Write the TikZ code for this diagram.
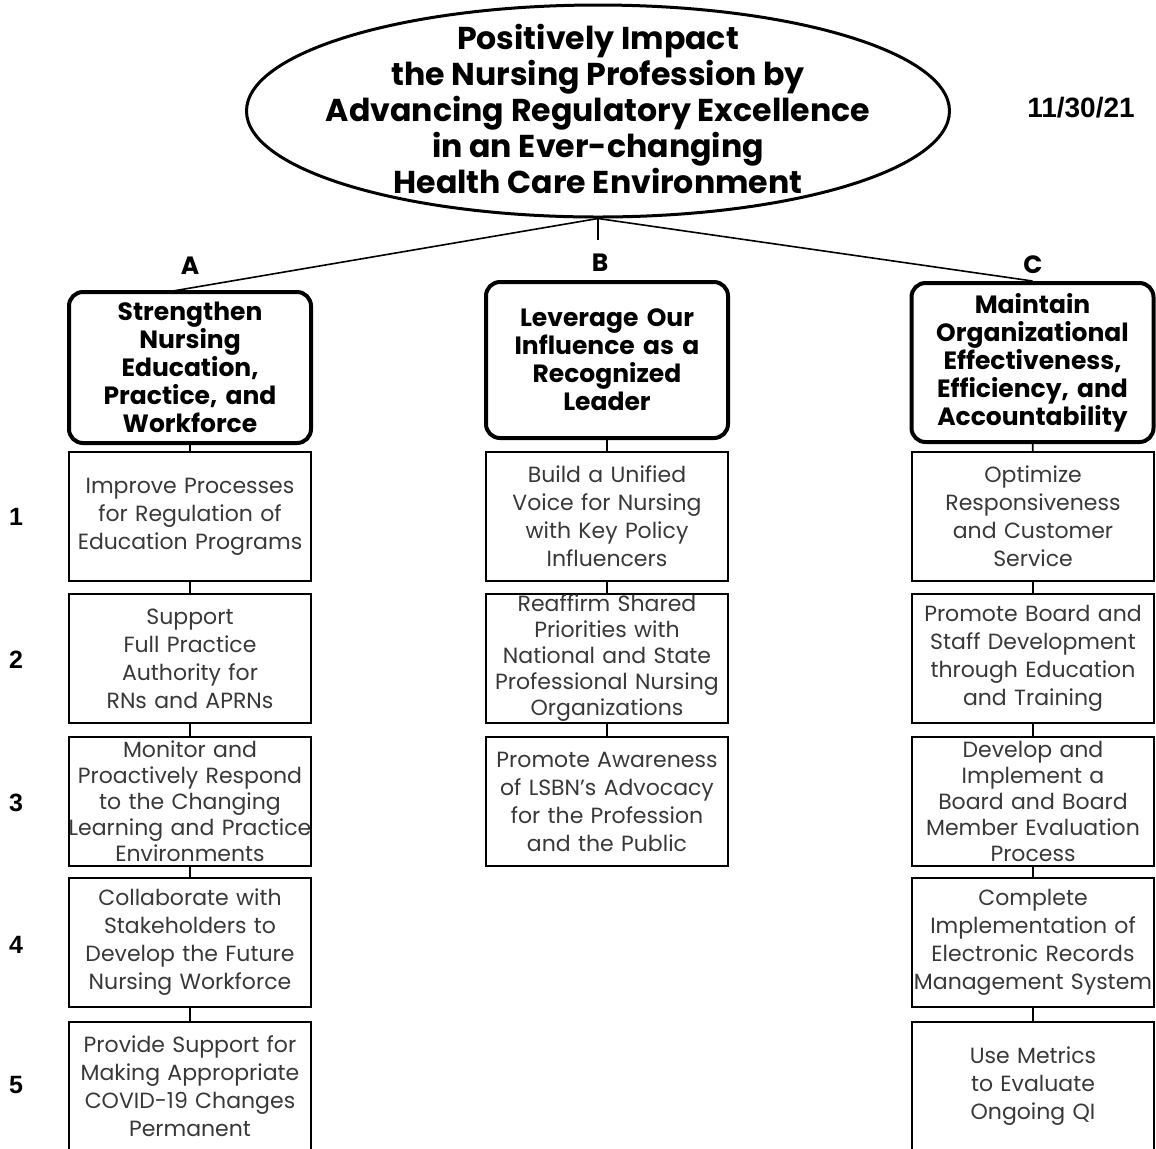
\documentclass[tikz,border=0pt]{standalone}
\usepackage{fontspec}
\setmainfont{Poppins}
\newfontfamily\arialfont{Liberation Sans}
\usetikzlibrary{shapes.geometric}

\definecolor{textgray}{rgb}{0.22,0.22,0.22}

\tikzset{
  goalbox/.style={ellipse, draw, line width=1.5pt, inner sep=0pt,
    minimum width=351.5pt, minimum height=106pt},
  goaltext/.style={align=center, inner sep=0pt,
    font=\bfseries\fontsize{15.8}{16.8}\selectfont},
  pillarbox/.style={draw, line width=2pt, rounded corners=7pt, inner sep=0pt,
    minimum width=121pt, text width=118pt, align=center,
    font=\bfseries\fontsize{12.5}{14}\selectfont},
  stratbox/.style={draw, line width=1pt, inner ysep=0pt, inner xsep=-2.5pt,
    minimum width=121pt, minimum height=64.5pt, text width=126pt, align=center,
    text=textgray, font=\fontsize{11}{14}\selectfont},
  tightbox/.style={stratbox, font=\fontsize{11}{13}\selectfont},
  letterlab/.style={font=\bfseries\fontsize{12.5}{14}\selectfont},
  rowlab/.style={font=\arialfont\bfseries\fontsize{12.5}{14}\selectfont},
  link/.style={line width=0.8pt}
}

\begin{document}
\begin{tikzpicture}[x=0.5pt,y=-0.5pt]
\useasboundingbox (0,0) rectangle (1156,1148);

% Goal ellipse
\node[goalbox, label={[goaltext, yshift=1pt]center:{Positively Impact\\the Nursing Profession by\\Advancing Regulatory Excellence\\in an Ever-changing\\Health Care Environment}}] (goal) at (598,111) {};

% Date
\node[font=\arialfont\bfseries\fontsize{14}{16}\selectfont] (date) at (1081,108) {11/30/21};

% Pillar letters
\node[letterlab] (labA) at (190,266) {A};
\node[letterlab] (labB) at (600,263) {B};
\node[letterlab] (labC) at (1033,265) {C};

% Pillar boxes
\node[pillarbox, minimum height=75.5pt] (boxA) at (190,367.5) {Strengthen\\Nursing\\Education,\\Practice, and\\Workforce};
\node[pillarbox, minimum height=78pt] (boxB) at (607,360) {Leverage Our\\Influence as a\\Recognized\\Leader};
\node[pillarbox, minimum height=79.5pt] (boxC) at (1032.5,362.5) {Maintain\\Organizational\\Effectiveness,\\Efficiency, and\\Accountability};

% Row numbers
\node[rowlab] (row1) at (16,517) {1};
\node[rowlab] (row2) at (16,660) {2};
\node[rowlab] (row3) at (16,803) {3};
\node[rowlab] (row4) at (16,945) {4};
\node[rowlab] (row5) at (16,1085) {5};

% Column A
\node[stratbox] (subA1) at (190,516.5) {Improve Processes\\for Regulation of\\Education Programs};
\node[stratbox] (subA2) at (190,658.5) {Support\\Full Practice\\Authority for\\RNs and APRNs};
\node[tightbox] (subA3) at (190,801.5) {Monitor and\\Proactively Respond\\to the Changing\\Learning and Practice\\Environments};
\node[stratbox] (subA4) at (190,942.5) {Collaborate with\\Stakeholders to\\Develop the Future\\Nursing Workforce};
\node[stratbox] (subA5) at (190,1086) {Provide Support for\\Making Appropriate\\COVID-19 Changes\\Permanent};

% Column B
\node[stratbox] (subB1) at (607,516) {Build a Unified\\Voice for Nursing\\with Key Policy\\Influencers};
\node[tightbox] (subB2) at (607,658.5) {Reaffirm Shared\\Priorities with\\National and State\\Professional Nursing\\Organizations};
\node[stratbox] (subB3) at (607,801.5) {Promote Awareness\\of LSBN's Advocacy\\for the Profession\\and the Public};

% Column C
\node[stratbox] (subC1) at (1033,516.5) {Optimize\\Responsiveness\\and Customer\\Service};
\node[stratbox] (subC2) at (1033,658.5) {Promote Board and\\Staff Development\\through Education\\and Training};
\node[tightbox] (subC3) at (1033,801.5) {Develop and\\Implement a\\Board and Board\\Member Evaluation\\Process};
\node[stratbox] (subC4) at (1033,942.5) {Complete\\Implementation of\\Electronic Records\\Management System};
\node[stratbox] (subC5) at (1033,1086) {Use Metrics\\to Evaluate\\Ongoing QI};

% Fan lines from the goal
\coordinate (footA) at (167,292);
\coordinate (stub) at (598,240);
\draw[link] (goal.south) -- (footA);
\draw[link] (goal.south) -- (stub);
\draw[link] (goal.south) -- (boxC.north);

% Column links
\draw[link] (boxA) -- (subA1);
\draw[link] (subA1) -- (subA2);
\draw[link] (subA2) -- (subA3);
\draw[link] (subA3) -- (subA4);
\draw[link] (subA4) -- (subA5);

\draw[link] (boxB) -- (subB1);
\draw[link] (subB1) -- (subB2);
\draw[link] (subB2) -- (subB3);

\draw[link] (boxC) -- (subC1);
\draw[link] (subC1) -- (subC2);
\draw[link] (subC2) -- (subC3);
\draw[link] (subC3) -- (subC4);
\draw[link] (subC4) -- (subC5);
\end{tikzpicture}
\end{document}
